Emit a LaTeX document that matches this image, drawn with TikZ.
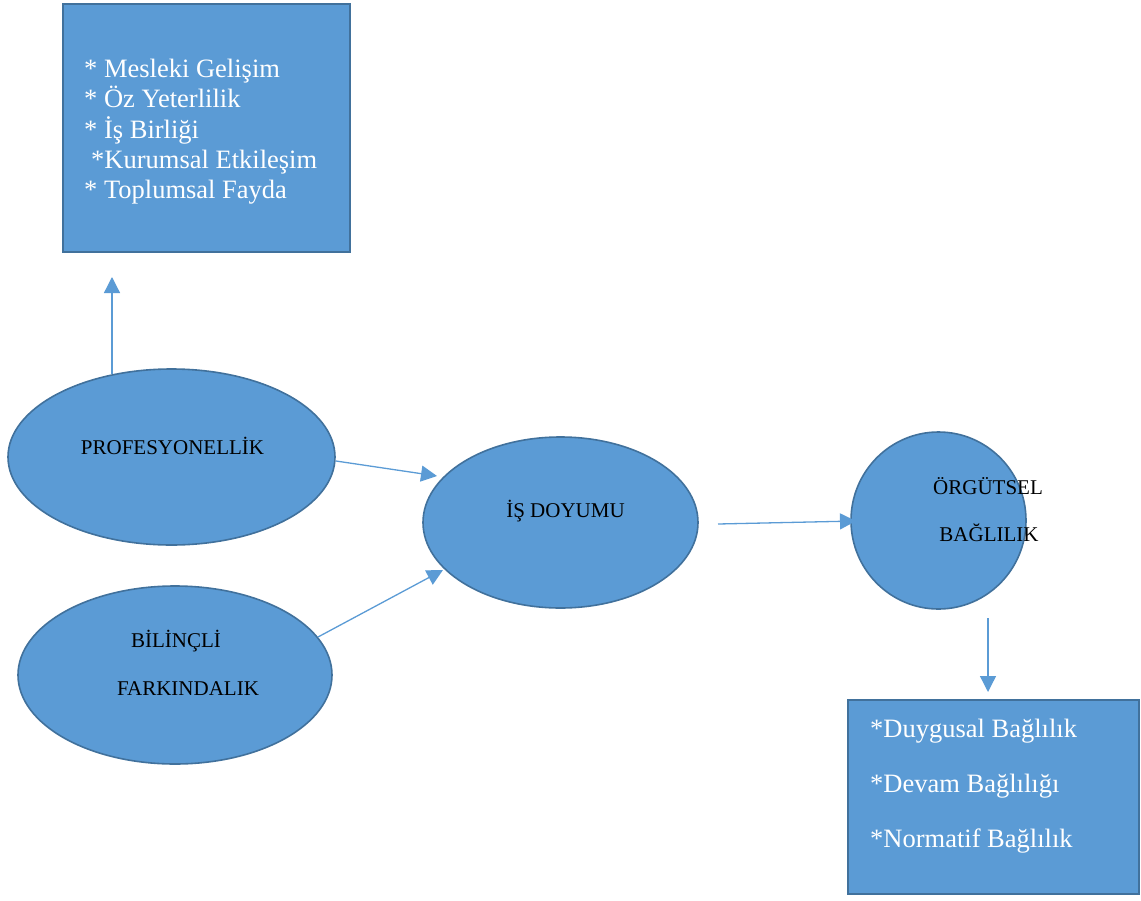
\documentclass[tikz,border=0pt]{standalone}
\usepackage{fontspec}
\setmainfont{Liberation Serif}
\usetikzlibrary{shapes.geometric,arrows.meta}
\definecolor{boxfill}{HTML}{5B9BD5}
\definecolor{boxline}{HTML}{41719C}
\tikzset{
  oval/.style={ellipse,draw=boxline,fill=boxfill,line width=1.6pt,inner sep=0pt},
  panel/.style={rectangle,draw=boxline,fill=boxfill,line width=1.6pt,inner sep=0pt},
  ovaltext/.style={anchor=base,font=\fontsize{21}{21}\selectfont,text=black,inner sep=0pt},
  itemtext/.style={anchor=base west,font=\fontsize{26.5}{26.5}\selectfont,text=white,inner sep=0pt},
  link/.style={draw=boxfill,line width=1.3pt,-{Triangle[length=16pt,width=16pt]}}
}
\begin{document}
\begin{tikzpicture}[x=1pt,y=-1pt]
\useasboundingbox (0,0) rectangle (1141,900);

% outcome panels
\node[panel,minimum width=287pt,minimum height=248pt] (top) at (206.5,128) {};
\node[panel,minimum width=291pt,minimum height=194pt] (bottom) at (993.5,797) {};

\node[itemtext] (t1) at (84,77) {* Mesleki Gelişim};
\node[itemtext] (t2) at (84,107.5) {* Öz Yeterlilik};
\node[itemtext] (t3) at (84,138) {* İş Birliği};
\node[itemtext] (t4) at (91,168) {*Kurumsal Etkileşim};
\node[itemtext] (t5) at (84,198.5) {* Toplumsal Fayda};

\node[itemtext] (b1) at (870,737) {*Duygusal Bağlılık};
\node[itemtext] (b2) at (870,792) {*Devam Bağlılığı};
\node[itemtext] (b3) at (870,847) {*Normatif Bağlılık};

% concept ovals
\node[oval,minimum width=327pt,minimum height=176pt] (prof) at (171.5,457) {};
\node[oval,minimum width=314pt,minimum height=178pt] (bilinc) at (175,675) {};
\node[oval,minimum width=275pt,minimum height=171pt] (doyum) at (560.5,522.5) {};
\node[oval,minimum width=175pt,minimum height=177pt] (orgut) at (938.5,520.5) {};

\node[ovaltext] (proflbl) at (172.5,454) {PROFESYONELLİK};
\node[ovaltext] (doyumlbl) at (565.5,517) {İŞ DOYUMU};
\node[ovaltext] (orgutlbl1) at (988,494) {ÖRGÜTSEL};
\node[ovaltext] (orgutlbl2) at (989,541) {BAĞLILIK};
\node[ovaltext] (bilinclbl1) at (176,647) {BİLİNÇLİ};
\node[ovaltext] (bilinclbl2) at (188,695) {FARKINDALIK};

% connector end points
\coordinate (profUp) at (112,374);
\coordinate (topIn) at (112,277);
\coordinate (profOut) at (336,461);
\coordinate (doyumInA) at (437,476);
\coordinate (bilincOut) at (318,637);
\coordinate (doyumInB) at (443,570);
\coordinate (doyumOut) at (718,524);
\coordinate (orgutIn) at (856,521);
\coordinate (orgutOut) at (988,618);
\coordinate (bottomIn) at (988,692);

\draw[link] (profUp) -- (topIn);
\draw[link] (profOut) -- (doyumInA);
\draw[link] (bilincOut) -- (doyumInB);
\draw[link] (doyumOut) -- (orgutIn);
\draw[link] (orgutOut) -- (bottomIn);
\end{tikzpicture}
\end{document}
